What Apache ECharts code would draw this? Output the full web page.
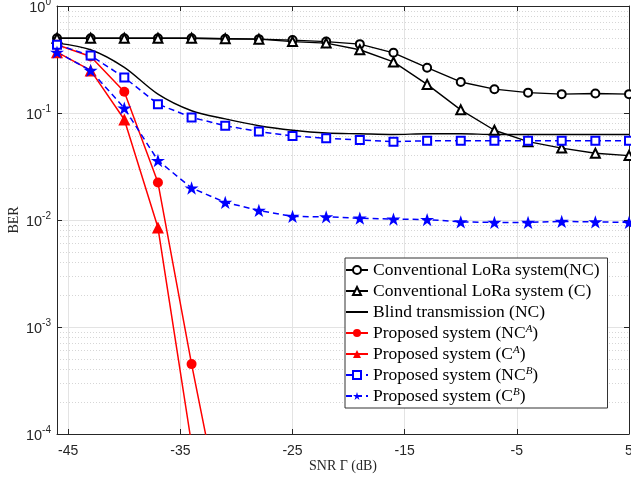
<!DOCTYPE html>
<html>
<head>
<meta charset="utf-8">
<script src="https://cdn.jsdelivr.net/npm/echarts@6/dist/echarts.min.js"></script>
<style>
html, body { margin: 0; padding: 0; background: #fff; }
#chart { width: 631px; height: 481px; }
</style>
</head>
<body>
<div id="chart"></div>
<script>
// SNR points (dB)
const snr = [-46, -43, -40, -37, -34, -31, -28, -25, -22, -19, -16, -13, -10, -7, -4, -1, 2, 5];

const convNC = [0.5, 0.5, 0.5, 0.5, 0.5, 0.495, 0.49, 0.48, 0.465, 0.44, 0.365, 0.265, 0.195, 0.167, 0.155, 0.15, 0.152, 0.15];
const convC = [0.5, 0.5, 0.5, 0.5, 0.5, 0.495, 0.49, 0.465, 0.45, 0.39, 0.30, 0.185, 0.107, 0.069, 0.054, 0.047, 0.042, 0.040];
const blindNC = [0.45, 0.39, 0.267, 0.15, 0.105, 0.088, 0.076, 0.069, 0.065, 0.064, 0.063, 0.064, 0.064, 0.063, 0.063, 0.063, 0.063, 0.063];
const propNCA = [0.435, 0.337, 0.158, 0.0224, 0.00045, 0.000012];
const propCA = [0.37, 0.25, 0.087, 0.0085, 0.00008];
const propNCB = [0.435, 0.344, 0.215, 0.121, 0.091, 0.076, 0.067, 0.061, 0.058, 0.056, 0.054, 0.055, 0.055, 0.055, 0.055, 0.055, 0.055, 0.055];
const propCB = [0.37, 0.25, 0.111, 0.036, 0.0199, 0.0146, 0.0123, 0.0108, 0.0107, 0.0104, 0.0102, 0.0101, 0.0096, 0.0095, 0.0095, 0.0097, 0.0096, 0.0095];

const xTicks = [-45, -35, -25, -15, -5, 5];
const minorY = [];
[1e-4, 1e-3, 1e-2, 1e-1].forEach(d => { for (let k = 2; k <= 9; k++) minorY.push(+(d * k).toPrecision(3)); });

const star = 'path://M0,-10 L2.245,-3.09 L9.51,-3.09 L3.633,1.18 L5.88,8.09 L0,3.82 L-5.88,8.09 L-3.633,1.18 L-9.51,-3.09 L-2.245,-3.09 Z';

function pairs(ys) {
  return ys.map((y, i) => [snr[i], y]);
}

const chart = echarts.init(document.getElementById('chart'));

const axisColor = '#262626';
const serif = '"Liberation Serif", "DejaVu Serif", serif';
const sans = '"Liberation Sans", Arial, sans-serif';

const names = [
  'Conventional LoRa system(NC)',
  'Conventional LoRa system (C)',
  'Blind transmission (NC)',
  'Proposed system (NC^A)',
  'Proposed system (C^A)',
  'Proposed system (NC^B)',
  'Proposed system (C^B)'
];

const option = {
  animation: false,
  backgroundColor: '#fff',
  grid: { left: 57, right: 2, top: 6, bottom: 47, outerBoundsMode: 'none', containLabel: false },
  legend: {
    orient: 'vertical',
    left: 345,
    top: 258,
    itemWidth: 22,
    itemHeight: 10,
    itemGap: 3,
    padding: [3, 8, 3, 0],
    backgroundColor: '#fff',
    borderColor: '#333',
    borderWidth: 1,
    data: names.map(n => n === 'Blind transmission (NC)' ? { name: n, itemStyle: { opacity: 0 } } : n),
    formatter: name => name.replace(/\^(\w)/, '{sup|$1}'),
    textStyle: {
      fontFamily: serif,
      fontSize: 17.5,
      color: '#000',
      lineHeight: 18,
      rich: {
        sup: { fontFamily: serif, fontSize: 11, fontStyle: 'italic', verticalAlign: 'top', lineHeight: 18, color: '#000' }
      }
    }
  },
  xAxis: [
    {
      type: 'value',
      min: -46,
      max: 5,
      name: 'SNR \u0393 (dB)',
      nameLocation: 'middle',
      nameGap: 25,
      nameMoveOverlap: false,
      nameTextStyle: { fontFamily: serif, fontSize: 14, color: '#262626' },
      axisLine: { onZero: false, lineStyle: { color: axisColor, width: 1 } },
      axisTick: { inside: true, length: 5, customValues: xTicks, lineStyle: { color: axisColor } },
      axisLabel: { customValues: xTicks, fontFamily: sans, fontSize: 14, color: '#262626', margin: 10 },
      splitLine: { show: true, lineStyle: { color: '#e3e3e3', width: 1 } }
    },
    {
      type: 'value',
      min: -46,
      max: 5,
      position: 'top',
      axisLine: { onZero: false, lineStyle: { color: axisColor, width: 1 } },
      axisTick: { inside: true, length: 5, customValues: xTicks, lineStyle: { color: axisColor } },
      axisLabel: { show: false },
      splitLine: { show: false }
    }
  ],
  yAxis: [
    {
      type: 'log',
      min: 1e-4,
      max: 1,
      position: 'left',
      name: 'BER',
      nameLocation: 'middle',
      nameGap: 36,
      nameMoveOverlap: false,
      nameTextStyle: { fontFamily: serif, fontSize: 14, color: '#262626' },
      axisLine: { show: true, onZero: false, lineStyle: { color: axisColor, width: 1 } },
      axisTick: { inside: true, length: 5, lineStyle: { color: axisColor } },
      axisLabel: {
        margin: 6,
        formatter: v => '{b|10}{s|' + Math.round(Math.log10(v)) + '}',
        rich: {
          b: { fontFamily: sans, fontSize: 14.5, color: '#262626', lineHeight: 18, verticalAlign: 'bottom' },
          s: { fontFamily: sans, fontSize: 10, color: '#262626', lineHeight: 18, verticalAlign: 'top' }
        }
      },
      splitLine: { show: true, lineStyle: { color: '#e3e3e3', width: 1 } }
    },
    {
      type: 'log',
      min: 1e-4,
      max: 1,
      position: 'right',
      axisLine: { show: true, onZero: false, lineStyle: { color: axisColor, width: 1 } },
      axisTick: { inside: true, length: 5, lineStyle: { color: axisColor } },
      axisLabel: { show: false },
      splitLine: { show: false }
    },
    {
      type: 'log',
      min: 1e-4,
      max: 1,
      position: 'right',
      axisLine: { show: false, onZero: false },
      axisTick: { show: false, customValues: minorY },
      axisLabel: { show: false },
      splitLine: { show: true, lineStyle: { color: '#d6d6d6', width: 1, type: [1, 2] } }
    }
  ],
  series: [
    {
      name: names[0], type: 'line', data: pairs(convNC),
      symbol: 'emptyCircle', symbolSize: 8,
      lineStyle: { color: '#000', width: 1.4 }, itemStyle: { color: '#000', borderWidth: 1.2 }
    },
    {
      name: names[1], type: 'line', data: pairs(convC),
      symbol: 'emptyTriangle', symbolSize: 9,
      lineStyle: { color: '#000', width: 1.4 }, itemStyle: { color: '#000', borderWidth: 1.2 }
    },
    {
      name: names[2], type: 'line', data: pairs(blindNC),
      symbol: 'none', smooth: 0.3,
      lineStyle: { color: '#000', width: 1.4 }, itemStyle: { color: '#000' }
    },
    {
      name: names[3], type: 'line', data: pairs(propNCA),
      symbol: 'circle', symbolSize: 10,
      lineStyle: { color: '#ff0000', width: 1.5 }, itemStyle: { color: '#ff0000' }
    },
    {
      name: names[4], type: 'line', data: pairs(propCA),
      symbol: 'triangle', symbolSize: 12,
      lineStyle: { color: '#ff0000', width: 1.5 }, itemStyle: { color: '#ff0000' }
    },
    {
      name: names[5], type: 'line', data: pairs(propNCB),
      symbol: 'emptyRect', symbolSize: 8,
      lineStyle: { color: '#0000ff', width: 1.5, type: [6, 4] }, itemStyle: { color: '#0000ff', borderWidth: 1.2 }
    },
    {
      name: names[6], type: 'line', data: pairs(propCB),
      symbol: star, symbolSize: 14, symbolKeepAspect: true,
      lineStyle: { color: '#0000ff', width: 1.5, type: [6, 4] }, itemStyle: { color: '#0000ff' }
    }
  ]
};

chart.setOption(option);
</script>
</body>
</html>
